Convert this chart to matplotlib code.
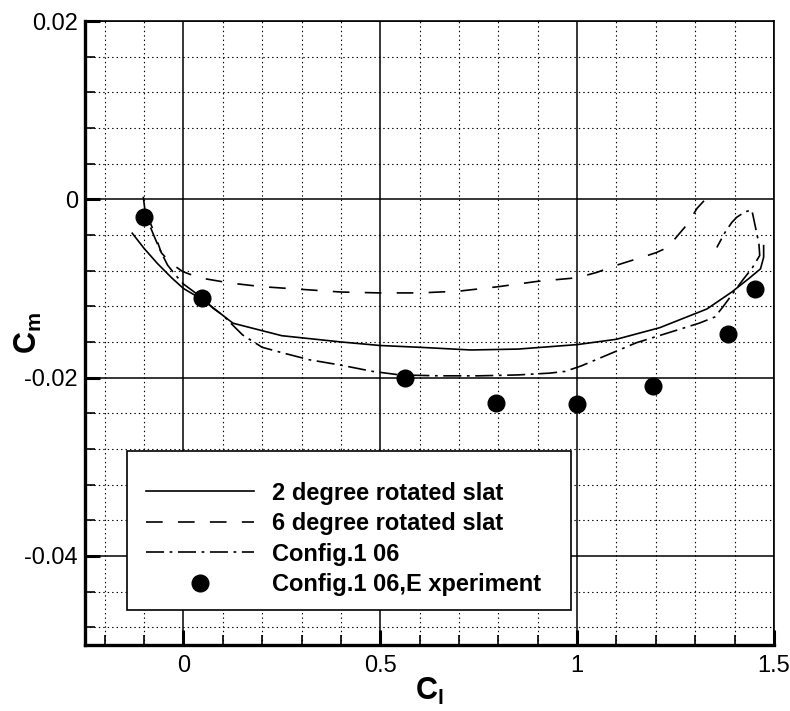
import matplotlib
matplotlib.use("Agg")
import matplotlib.pyplot as plt
from matplotlib.patches import Rectangle
from matplotlib.ticker import MultipleLocator

# 2 degree rotated slat (solid)
cl_2deg = [-0.13, -0.10, -0.066, -0.03, 0.0, 0.05, 0.126, 0.25, 0.40, 0.50, 0.60,
           0.73, 0.85, 1.00, 1.10, 1.21, 1.33, 1.393, 1.436, 1.466, 1.474, 1.474]
cm_2deg = [-0.0038, -0.0055, -0.0072, -0.0088, -0.0100, -0.0113, -0.0139, -0.0153,
           -0.0160, -0.0164, -0.0166, -0.0169, -0.0168, -0.0163, -0.0157, -0.0144,
           -0.0123, -0.0104, -0.0089, -0.0078, -0.0065, -0.0052]

# 6 degree rotated slat (dashed)
cl_6deg = [-0.095, -0.077, -0.056, -0.031, -0.002, 0.04, 0.08, 0.12, 0.2, 0.3, 0.4,
           0.5, 0.6, 0.7, 0.8, 0.9, 1.0, 1.05, 1.1, 1.15, 1.2, 1.23, 1.255, 1.28,
           1.305, 1.33]
cm_6deg = [-0.0015, -0.0034, -0.0060, -0.0072, -0.0081, -0.0088, -0.0091, -0.0094,
           -0.0098, -0.0101, -0.0104, -0.0105, -0.0105, -0.0103, -0.0098, -0.0092,
           -0.0088, -0.0082, -0.0074, -0.0067, -0.0060, -0.0054, -0.0041, -0.0028,
           -0.0010, 0.0002]

# Config.1 06 computation (dash-dot)
cl_cfg = [-0.102, -0.097, -0.085, -0.07, -0.056, -0.04, -0.02, 0.0, 0.046, 0.075,
          0.10, 0.15, 0.20, 0.25, 0.32, 0.40, 0.48, 0.55, 0.65, 0.75, 0.85, 0.93,
          0.97, 1.01, 1.08, 1.15, 1.23, 1.31, 1.35, 1.37, 1.40, 1.42, 1.445, 1.464,
          1.462, 1.455, 1.444, 1.427, 1.406, 1.393, 1.376, 1.355]
cm_cfg = [0.0003, -0.0015, -0.0030, -0.0046, -0.0060, -0.0074, -0.0085, -0.0095,
          -0.0110, -0.0122, -0.0130, -0.0152, -0.0166, -0.0172, -0.0180, -0.0186,
          -0.0193, -0.0197, -0.0198, -0.0198, -0.0197, -0.0195, -0.0193, -0.0187,
          -0.0174, -0.0161, -0.0150, -0.0139, -0.0132, -0.0121, -0.0103, -0.0091,
          -0.0077, -0.0063, -0.0050, -0.0035, -0.0012, -0.0014, -0.0020, -0.0026,
          -0.0037, -0.0054]

# Config.1 06 wind tunnel data
cl_exp = [-0.10, 0.048, 0.564, 0.794, 1.0, 1.193, 1.383, 1.451]
cm_exp = [-0.0020, -0.0111, -0.0201, -0.0229, -0.0230, -0.0209, -0.0151, -0.0101]

labels = ["2 degree rotated slat", "6 degree rotated slat",
          "Config.1 06", "Config.1 06,E xperiment"]

x_ticks = [0, 0.5, 1, 1.5]
x_ticklabels = ["0", "0.5", "1", "1.5"]
y_ticks = [-0.04, -0.02, 0, 0.02]
y_ticklabels = ["-0.04", "-0.02", "0", "0.02"]

plt.rcParams["font.family"] = ["Liberation Sans", "DejaVu Sans"]
plt.rcParams["mathtext.fontset"] = "custom"
plt.rcParams["mathtext.rm"] = "Liberation Sans"
plt.rcParams["mathtext.bf"] = "Liberation Sans:bold"
plt.rcParams["lines.scale_dashes"] = False

fig = plt.figure(figsize=(7.9, 7.11), dpi=100)
ax = fig.add_axes([0.1076, 0.0928, 0.872, 0.8776])

DASHED = (0, (12, 11))
DASHDOT = (0, (13, 4, 2, 4))

ax.plot(cl_2deg, cm_2deg, color="k", lw=1.2, ls="-", zorder=3, label=labels[0])
ax.plot(cl_6deg, cm_6deg, color="k", lw=1.2, ls=DASHED, zorder=3, label=labels[1])
ax.plot(cl_cfg, cm_cfg, color="k", lw=1.2, ls=DASHDOT, zorder=3, label=labels[2])
ax.plot(cl_exp, cm_exp, ls="none", marker="o", ms=12, color="k", zorder=4,
        label=labels[3])

ax.set_xlim(-0.25, 1.5)
ax.set_ylim(-0.05, 0.02)
ax.set_xticks(x_ticks, labels=x_ticklabels)
ax.set_yticks(y_ticks, labels=y_ticklabels)
ax.xaxis.set_minor_locator(MultipleLocator(0.1))
ax.yaxis.set_minor_locator(MultipleLocator(0.004))

# grid: solid at major ticks, dotted at minor ticks
ax.grid(which="major", color="k", ls="-", lw=1.1, zorder=1)
ax.grid(which="minor", color="k", ls=(0, (1, 2.2)), lw=0.8, zorder=1)
ax.set_axisbelow(True)

ax.tick_params(which="both", direction="in", top=False, right=False,
               labelsize=17, colors="k")
ax.tick_params(which="major", length=11, width=2.2, pad=5)
ax.tick_params(which="minor", length=7, width=1.2)
ax.tick_params(axis="x", which="major", pad=7)

for side in ("left", "bottom"):
    ax.spines[side].set_linewidth(2.4)
for side in ("top", "right"):
    ax.spines[side].set_linewidth(1.2)

ax.set_xlabel(r"$\mathbf{C_l}$", fontsize=22)
ax.set_ylabel(r"$\mathbf{C_m}$", fontsize=22)
ax.xaxis.set_label_coords(0.5, -0.05)
ax.yaxis.set_label_coords(-0.06, 0.5)

# legend box drawn separately so padding can be set freely
ax.add_patch(Rectangle((0.061, 0.056), 0.644, 0.255, transform=ax.transAxes,
                       facecolor="white", edgecolor="k", lw=1.2, zorder=5))
leg = ax.legend(loc="upper left", bbox_to_anchor=(0.088, 0.262), frameon=False,
                prop={"size": 17, "weight": "bold"}, handlelength=4.6,
                handletextpad=0.75, labelspacing=0.32, borderpad=0,
                borderaxespad=0, numpoints=1)
leg.set_zorder(6)

fig.savefig("out.png", dpi=100, facecolor="white")
